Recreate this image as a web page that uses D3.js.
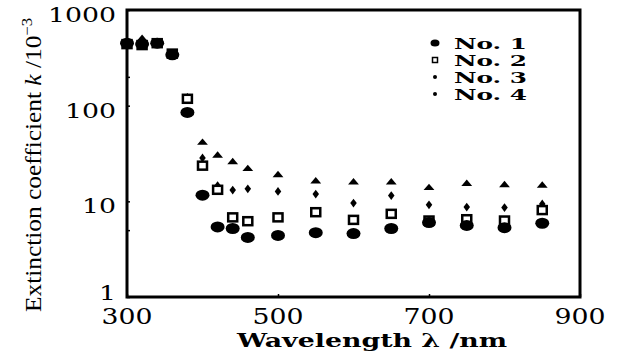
<!DOCTYPE html>
<html>
<head>
<meta charset="utf-8">
<script src="https://cdn.jsdelivr.net/npm/d3@7"></script>
<style>
  body { margin: 0; background: #fff; }
  svg { display: block; }
</style>
</head>
<body>
<div id="chart"></div>
<script>
// wavelength (nm) and extinction coefficient k (x10^-3) for each sample
var wavelengths = [300, 320, 340, 360, 380, 400, 420, 440, 460, 500, 550, 600, 650, 700, 750, 800, 850];
var no1 = [450, 440, 450, 340, 85, 11.6, 5.4, 5.2, 4.2, 4.4, 4.7, 4.6, 5.2, 6.0, 5.6, 5.3, 5.9];
var no2 = [440, 430, 450, 350, 118, 23.6, 13.2, 6.8, 6.2, 6.8, 7.7, 6.4, 7.4, 6.3, 6.5, 6.3, 8.1];
var no3 = [450, 450, 450, 350, 120, 28.4, 14.6, 13.1, 13.5, 12.7, 11.9, 9.6, 11.5, 9.2, 8.7, 8.6, 9.4];
var no4 = [460, 500, 450, 350, 122, 41, 30, 25.7, 21.8, 18.8, 16.2, 15.8, 15.8, 13.8, 15.2, 14.8, 14.6];
var seriesNames = ["No. 1", "No. 2", "No. 3", "No. 4"];
var xTicks = [300, 500, 700, 900];
var yTicks = [1, 10, 100, 1000];
var yMinor = [5, 200];

var svgWidth = 620;
var svgHeight = 358;
var plot = {left: 127, right: 580, top: 10, bottom: 297};

var svg = d3.select("#chart")
  .append("svg")
    .attr("width", svgWidth)
    .attr("height", svgHeight);

var x = d3.scaleLinear()
  .domain([300, 900])
  .range([plot.left, plot.right]);

var y = d3.scaleLog()
  .domain([1, 1000])
  .range([plot.bottom, plot.top]);

var serif = "'DejaVu Serif', 'Liberation Serif', serif";

// inward ticks only, labels drawn separately
svg.append("g")
  .attr("transform", `translate(0, ${plot.bottom})`)
  .call(d3.axisTop(x).tickValues(xTicks).tickSize(3).tickFormat(""))
  .call(g => g.select(".domain").remove())
  .selectAll("line").attr("stroke-width", 1.5);

svg.append("g")
  .attr("transform", `translate(${plot.left}, 0)`)
  .call(d3.axisRight(y).tickValues(yTicks.concat(yMinor)).tickSize(3).tickFormat(""))
  .call(g => g.select(".domain").remove())
  .selectAll("line").attr("stroke-width", 1.5);

// frame
svg.append("rect")
  .attr("x", plot.left)
  .attr("y", plot.top)
  .attr("width", plot.right - plot.left)
  .attr("height", plot.bottom - plot.top)
  .attr("fill", "none")
  .attr("stroke", "#000")
  .attr("stroke-width", 3);

// tick labels
svg.selectAll(".xlab")
  .data(xTicks)
  .enter()
  .append("text")
  .attr("x", d => x(d))
  .attr("y", 324)
  .attr("text-anchor", "middle")
  .attr("font-family", serif)
  .attr("font-size", "22px")
  .attr("textLength", 51)
  .attr("lengthAdjust", "spacingAndGlyphs")
  .text(d => d);

svg.selectAll(".ylab")
  .data(yTicks)
  .enter()
  .append("text")
  .attr("x", 116)
  .attr("y", d => Math.min(y(d) + 12, 300))
  .attr("text-anchor", "end")
  .attr("font-family", serif)
  .attr("font-size", "21px")
  .attr("textLength", d => String(d).length * 17)
  .attr("lengthAdjust", "spacingAndGlyphs")
  .text(d => d);

// axis titles
svg.append("text")
  .attr("x", 372)
  .attr("y", 347)
  .attr("text-anchor", "middle")
  .attr("font-family", serif)
  .attr("font-weight", "bold")
  .attr("font-size", "19px")
  .attr("textLength", 270)
  .attr("lengthAdjust", "spacingAndGlyphs")
  .text("Wavelength λ /nm");

var yTitle = svg.append("text")
  .attr("transform", "translate(41, 165) rotate(-90)")
  .attr("text-anchor", "middle")
  .attr("font-family", "'Liberation Serif', serif")
  .attr("font-size", "23px")
  .attr("textLength", 294)
  .attr("lengthAdjust", "spacingAndGlyphs");
yTitle.append("tspan").text("Extinction coefficient ");
yTitle.append("tspan").attr("font-style", "italic").text("k");
yTitle.append("tspan").text(" /10");
yTitle.append("tspan").attr("font-size", "15px").attr("dy", -9).text("−3");

// markers for each series
var triangle = d3.symbol().type(d3.symbolTriangle).size(30);
var diamond = d3.symbol().type(d3.symbolDiamond).size(22);

function drawSeries(vals, kind) {
  var pts = wavelengths.map((w, i) => ({w: w, v: vals[i]}));
  var g = svg.append("g");
  if (kind === 1) {
    g.selectAll("ellipse").data(pts).enter().append("ellipse")
      .attr("cx", d => x(d.w)).attr("cy", d => y(d.v))
      .attr("rx", 7).attr("ry", 5.5).attr("fill", "#000");
  } else if (kind === 2) {
    g.selectAll("rect").data(pts).enter().append("rect")
      .attr("x", d => x(d.w) - 4.5).attr("y", d => y(d.v) - 4)
      .attr("width", 9).attr("height", 8)
      .attr("fill", "#fff").attr("stroke", "#000").attr("stroke-width", 2.5);
  } else if (kind === 3) {
    g.selectAll("path").data(pts).enter().append("path")
      .attr("d", diamond)
      .attr("transform", d => `translate(${x(d.w)}, ${y(d.v)}) scale(1.3, 1)`)
      .attr("fill", "#000");
  } else {
    g.selectAll("path").data(pts).enter().append("path")
      .attr("d", triangle)
      .attr("transform", d => `translate(${x(d.w)}, ${y(d.v)}) scale(1.3, 0.9)`)
      .attr("fill", "#000");
  }
}

drawSeries(no4, 4);
drawSeries(no3, 3);
drawSeries(no2, 2);
drawSeries(no1, 1);

// legend
var legendY = [43, 60, 77, 94];
var legend = svg.append("g");
legend.append("ellipse").attr("cx", 435).attr("cy", legendY[0])
  .attr("rx", 4.5).attr("ry", 3.5).attr("fill", "#000");
legend.append("rect").attr("x", 432.5).attr("y", legendY[1] - 2.5)
  .attr("width", 5).attr("height", 5)
  .attr("fill", "#fff").attr("stroke", "#000").attr("stroke-width", 1.5);
legend.append("circle").attr("cx", 435).attr("cy", legendY[2]).attr("r", 2).attr("fill", "#000");
legend.append("circle").attr("cx", 435).attr("cy", legendY[3]).attr("r", 2).attr("fill", "#000");

legend.selectAll("text")
  .data(seriesNames)
  .enter()
  .append("text")
  .attr("x", 454)
  .attr("y", (d, i) => legendY[i] + 6)
  .attr("font-family", serif)
  .attr("font-weight", "bold")
  .attr("font-size", "15px")
  .attr("textLength", 73)
  .attr("lengthAdjust", "spacingAndGlyphs")
  .text(d => d);
</script>
</body>
</html>
